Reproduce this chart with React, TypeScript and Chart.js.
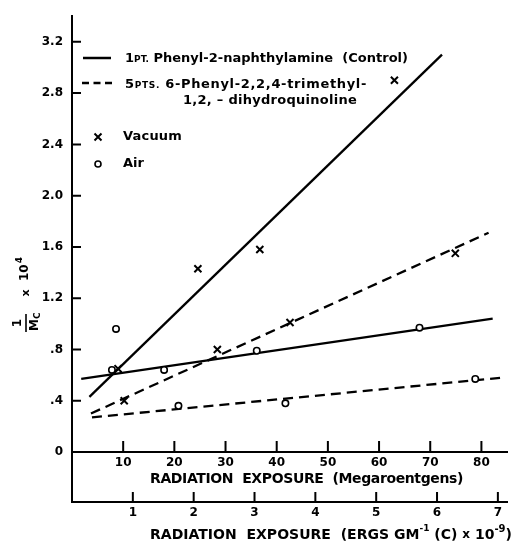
import React, { useEffect, useRef } from "react";
import { Chart, registerables } from "chart.js";

Chart.register(...registerables);

// ---- axis ticks ----
const X_TICKS = [10, 20, 30, 40, 50, 60, 70, 80];
const X2_TICKS = [1, 2, 3, 4, 5, 6, 7];
const Y_TICKS = [0, 0.4, 0.8, 1.2, 1.6, 2.0, 2.4, 2.8, 3.2];
const Y_TICK_LABELS = ["0", ".4", ".8", "1.2", "1.6", "2.0", "2.4", "2.8", "3.2"];

// ---- measured points (Megaroentgens, 1/Mc x 10^4) ----
const VACUUM_X = [9.0, 10.2, 24.6, 28.4, 36.7, 42.6, 63.0, 74.9];
const VACUUM_Y = [0.65, 0.4, 1.43, 0.8, 1.58, 1.01, 2.9, 1.55];
const AIR_X = [7.8, 8.6, 18.0, 20.8, 36.1, 41.7, 67.9, 78.8];
const AIR_Y = [0.64, 0.96, 0.64, 0.36, 0.79, 0.38, 0.97, 0.57];

// ---- fitted lines (end points) ----
const CONTROL_VACUUM_X = [3.4, 72.3];
const CONTROL_VACUUM_Y = [0.43, 3.1];
const CONTROL_AIR_X = [1.8, 82.2];
const CONTROL_AIR_Y = [0.57, 1.04];
const ANTIOX_VACUUM_X = [3.7, 81.4];
const ANTIOX_VACUUM_Y = [0.3, 1.71];
const ANTIOX_AIR_X = [3.9, 84.0];
const ANTIOX_AIR_Y = [0.27, 0.58];

const X_MAX = 85;
const X2_MAX = 7.15;
const Y_MAX = 3.4;

const FF = '"DejaVu Sans", "Liberation Sans", sans-serif';

type Seg = { t: string; size: number; dy?: number };

function drawRich(ctx: CanvasRenderingContext2D, segs: Seg[], x: number, y: number, target?: number) {
  ctx.save();
  ctx.textAlign = "left";
  ctx.textBaseline = "middle";
  ctx.fillStyle = "#000";
  (ctx as any).letterSpacing = "0px";
  let natural = 0;
  let chars = 0;
  for (const s of segs) {
    ctx.font = `bold ${s.size}px ${FF}`;
    natural += ctx.measureText(s.t).width;
    chars += s.t.length;
  }
  let ls = 0;
  if (target) ls = Math.max(-1.5, Math.min(3, (target - natural) / Math.max(1, chars)));
  (ctx as any).letterSpacing = `${ls}px`;
  let cx = x;
  for (const s of segs) {
    ctx.font = `bold ${s.size}px ${FF}`;
    ctx.fillText(s.t, cx, y + (s.dy || 0));
    cx += ctx.measureText(s.t).width;
  }
  ctx.restore();
}

function pts(xs: number[], ys: number[]) {
  return xs.map((x, i) => ({ x, y: ys[i] }));
}

const decorPlugin = {
  id: "decor",
  afterDraw(chart: any) {
    const ctx: CanvasRenderingContext2D = chart.ctx;
    const xs = chart.scales.x;
    const x2 = chart.scales.x2;
    const ys = chart.scales.y;
    const left = chart.chartArea.left;
    const bottom = chart.chartArea.bottom;
    const x2top = x2.top;

    ctx.save();
    ctx.strokeStyle = "#000";
    ctx.lineWidth = 2;
    ctx.lineCap = "butt";
    // y axis extension down to second axis
    ctx.beginPath();
    ctx.moveTo(left, bottom);
    ctx.lineTo(left, x2top + 1);
    ctx.stroke();
    // inward ticks
    ctx.beginPath();
    for (const v of X_TICKS) {
      const p = xs.getPixelForValue(v);
      ctx.moveTo(p, bottom);
      ctx.lineTo(p, bottom - 11);
    }
    for (const v of X2_TICKS) {
      const p = x2.getPixelForValue(v);
      ctx.moveTo(p, x2top);
      ctx.lineTo(p, x2top - 10);
    }
    for (const v of Y_TICKS) {
      if (v === 0) continue;
      const p = ys.getPixelForValue(v);
      ctx.moveTo(left, p);
      ctx.lineTo(left + 9, p);
    }
    ctx.stroke();

    // axis titles
    drawRich(
      ctx,
      [
        { t: "RADIATION  EXPOSURE  ", size: 14 },
        { t: "(Megaroentgens)", size: 14 },
      ],
      150,
      479,
      313
    );
    drawRich(
      ctx,
      [
        { t: "RADIATION  EXPOSURE  (ERGS GM", size: 14 },
        { t: "-1", size: 9, dy: -6 },
        { t: " (C) ", size: 14 },
        { t: "x", size: 12 },
        { t: " 10", size: 14 },
        { t: "-9", size: 10, dy: -6 },
        { t: ")", size: 14 },
      ],
      150,
      535,
      362
    );

    // y title: 1/Mc x 10^4 (rotated)
    ctx.save();
    ctx.translate(26, 323);
    ctx.rotate(-Math.PI / 2);
    ctx.fillStyle = "#000";
    ctx.textBaseline = "middle";
    ctx.textAlign = "center";
    ctx.font = `bold 12px ${FF}`;
    ctx.fillText("1", 0, -8);
    ctx.lineWidth = 1.6;
    ctx.beginPath();
    ctx.moveTo(-9, 0);
    ctx.lineTo(9, 0);
    ctx.stroke();
    ctx.textAlign = "left";
    ctx.font = `bold 12px ${FF}`;
    ctx.fillText("M", -8, 9);
    const mw = ctx.measureText("M").width;
    ctx.font = `bold 9px ${FF}`;
    ctx.fillText("C", -8 + mw, 12);
    ctx.font = `bold 11px ${FF}`;
    ctx.textAlign = "center";
    ctx.fillText("x", 30, 0);
    ctx.textAlign = "left";
    ctx.font = `bold 12px ${FF}`;
    ctx.fillText("10", 42, -1);
    const tw = ctx.measureText("10").width;
    ctx.font = `bold 9px ${FF}`;
    ctx.fillText("4", 42 + tw + 1, -6);
    ctx.restore();

    // legend
    ctx.lineWidth = 2.5;
    ctx.beginPath();
    ctx.moveTo(83, 58);
    ctx.lineTo(111, 58);
    ctx.stroke();
    ctx.setLineDash([7, 4.5]);
    ctx.beginPath();
    ctx.moveTo(82, 83);
    ctx.lineTo(112, 83);
    ctx.stroke();
    ctx.setLineDash([]);

    drawRich(
      ctx,
      [
        { t: "1", size: 13 },
        { t: "PT.", size: 9, dy: 1 },
        { t: " Phenyl-2-naphthylamine  (Control)", size: 13 },
      ],
      125,
      59,
      283
    );
    drawRich(
      ctx,
      [
        { t: "5", size: 13 },
        { t: "PTS.", size: 9, dy: 1 },
        { t: " 6-Phenyl-2,2,4-trimethyl-", size: 13 },
      ],
      125,
      85,
      242
    );
    drawRich(ctx, [{ t: "1,2, – dihydroquinoline", size: 13 }], 183, 101, 174);

    // legend markers
    ctx.lineWidth = 2;
    ctx.beginPath();
    ctx.moveTo(94.5, 133.5);
    ctx.lineTo(101.5, 140.5);
    ctx.moveTo(101.5, 133.5);
    ctx.lineTo(94.5, 140.5);
    ctx.stroke();
    ctx.lineWidth = 1.6;
    ctx.beginPath();
    ctx.arc(98, 164, 3, 0, Math.PI * 2);
    ctx.stroke();
    drawRich(ctx, [{ t: "Vacuum", size: 13 }], 123, 137, 59);
    drawRich(ctx, [{ t: "Air", size: 13 }], 123, 164, 21);
    ctx.restore();
  },
};

export default function App() {
  const canvasRef = useRef<HTMLCanvasElement | null>(null);

  useEffect(() => {
    const canvas = canvasRef.current;
    if (!canvas) return;
    const lineBase = {
      showLine: true,
      pointRadius: 0,
      borderColor: "#000",
      borderWidth: 2.3,
      fill: false,
      order: 2,
    };
    const chart = new Chart(canvas, {
      type: "scatter",
      data: {
        datasets: [
          {
            ...lineBase,
            label: "Control vacuum",
            data: pts(CONTROL_VACUUM_X, CONTROL_VACUUM_Y),
          },
          {
            ...lineBase,
            label: "Control air",
            data: pts(CONTROL_AIR_X, CONTROL_AIR_Y),
          },
          {
            ...lineBase,
            label: "Antioxidant vacuum",
            borderDash: [10, 6],
            data: pts(ANTIOX_VACUUM_X, ANTIOX_VACUUM_Y),
          },
          {
            ...lineBase,
            label: "Antioxidant air",
            borderDash: [10, 6],
            data: pts(ANTIOX_AIR_X, ANTIOX_AIR_Y),
          },
          {
            label: "Vacuum",
            data: pts(VACUUM_X, VACUUM_Y),
            pointStyle: "crossRot",
            pointRadius: 5,
            borderColor: "#000",
            borderWidth: 2,
            order: 0,
          },
          {
            label: "Air",
            data: pts(AIR_X, AIR_Y),
            pointStyle: "circle",
            pointRadius: 3.2,
            backgroundColor: "#fff",
            borderColor: "#000",
            borderWidth: 1.6,
            order: 1,
          },
        ] as any,
      },
      options: {
        responsive: false,
        maintainAspectRatio: false,
        animation: false,
        devicePixelRatio: 1,
        events: [],
        layout: { padding: { top: 13, right: 4, left: 0, bottom: 0 } },
        plugins: {
          legend: { display: false },
          tooltip: { enabled: false },
          title: { display: false },
        },
        scales: {
          x: {
            type: "linear",
            position: "bottom",
            weight: 0,
            min: 0,
            max: X_MAX,
            afterBuildTicks: (s: any) => {
              s.ticks = X_TICKS.map((v) => ({ value: v }));
            },
            afterFit: (s: any) => {
              s.height = 50;
            },
            ticks: {
              color: "#000",
              font: { family: FF, size: 12, weight: "bold" },
              padding: 4,
              maxRotation: 0,
              autoSkip: false,
            },
            grid: { display: true, drawOnChartArea: false, drawTicks: false },
            border: { display: true, color: "#000", width: 2 },
          },
          x2: {
            type: "linear",
            position: "bottom",
            weight: 1,
            min: 0,
            max: X2_MAX,
            afterBuildTicks: (s: any) => {
              s.ticks = X2_TICKS.map((v) => ({ value: v }));
            },
            afterFit: (s: any) => {
              s.height = 42;
            },
            ticks: {
              color: "#000",
              font: { family: FF, size: 12, weight: "bold" },
              padding: 4,
              maxRotation: 0,
              autoSkip: false,
            },
            grid: { display: true, drawOnChartArea: false, drawTicks: false },
            border: { display: true, color: "#000", width: 2 },
          },
          y: {
            type: "linear",
            position: "left",
            min: 0,
            max: Y_MAX,
            afterBuildTicks: (s: any) => {
              s.ticks = Y_TICKS.map((v) => ({ value: v }));
            },
            afterFit: (s: any) => {
              s.width = 72;
            },
            ticks: {
              color: "#000",
              font: { family: FF, size: 12, weight: "bold" },
              padding: 9,
              autoSkip: false,
              callback: (_v: any, i: number) => Y_TICK_LABELS[i],
            },
            grid: { display: true, drawOnChartArea: false, drawTicks: false },
            border: { display: true, color: "#000", width: 2 },
          },
        },
      } as any,
      plugins: [decorPlugin],
    });
    return () => chart.destroy();
  }, []);

  return (
    <div style={{ position: "absolute", left: 0, top: 0, width: 514, height: 544, background: "#fff" }}>
      <canvas ref={canvasRef} width={514} height={544} style={{ display: "block", width: 514, height: 544 }} />
    </div>
  );
}
